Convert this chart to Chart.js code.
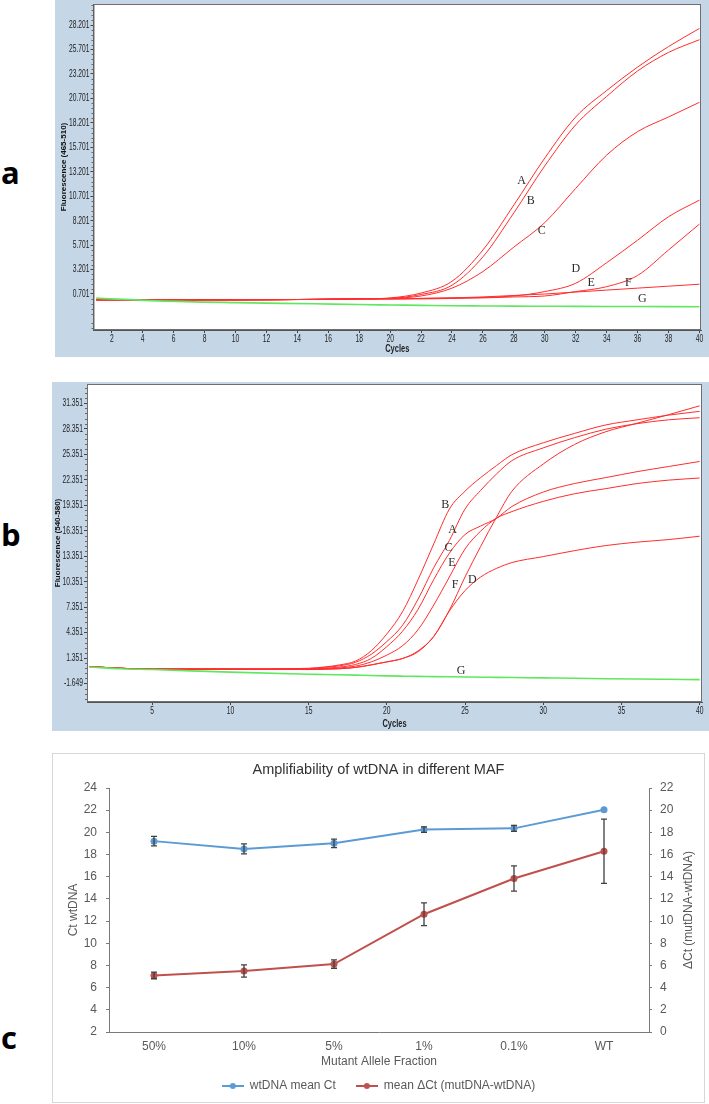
<!DOCTYPE html>
<html>
<head>
<meta charset="utf-8">
<script src="https://cdn.jsdelivr.net/npm/chart.js@4.4.1/dist/chart.umd.min.js"></script>
<style>
  html, body { margin: 0; padding: 0; background: #fff; }
  body { width: 709px; height: 1104px; position: relative; overflow: hidden; }
  .tag { position: absolute; left: 1px; font: bold 31px 'Open Sans', sans-serif; line-height: 31px; color: #000; }
  canvas { position: absolute; }
  #chartA { left: 55px; top: 0; background: #c5d6e7; }
  #chartB { left: 52px; top: 382px; background: #c5d6e7; }
  #boxC { position: absolute; left: 52px; top: 753px; width: 651px; height: 348px; border: 1px solid #d6d6d6; }
  #chartC { left: 0; top: 0; }
</style>
</head>
<body>
<div class="tag" style="top:157px">a</div>
<div class="tag" style="top:519px">b</div>
<div class="tag" style="top:1022px">c</div>
<canvas id="chartA" width="654" height="357"></canvas>
<canvas id="chartB" width="657" height="349"></canvas>
<div id="boxC"><canvas id="chartC" width="651" height="348"></canvas></div>
<script>
// ---- panel a : Fluorescence (465-510)
const cyclesA = [1, 5, 10, 15, 18, 20, 22, 24, 26, 28, 30, 32, 34, 36, 38, 40];
const aA = [0.1, 0.1, 0.1, 0.15, 0.2, 0.3, 0.8, 2.0, 5.2, 9.8, 14.6, 18.8, 21.5, 23.9, 26.0, 27.85];
const aB = [0.1, 0.1, 0.1, 0.15, 0.2, 0.25, 0.65, 1.6, 4.5, 9.0, 13.8, 18.0, 20.9, 23.5, 25.4, 26.7];
const aC = [0.1, 0.1, 0.1, 0.15, 0.2, 0.25, 0.5, 1.3, 3.0, 5.5, 8.0, 11.5, 14.9, 17.3, 18.8, 20.3];
const aD = [0.1, 0.1, 0.1, 0.15, 0.2, 0.2, 0.25, 0.3, 0.35, 0.5, 0.95, 1.8, 3.9, 6.2, 8.6, 10.3];
const aE = [0.1, 0.1, 0.1, 0.15, 0.2, 0.2, 0.2, 0.25, 0.3, 0.4, 0.5, 0.95, 1.45, 2.6, 5.2, 7.85];
const aF = [0.1, 0.1, 0.1, 0.15, 0.2, 0.2, 0.25, 0.3, 0.4, 0.55, 0.7, 0.9, 1.1, 1.3, 1.5, 1.7];
const aG = [0.28, 0.0, -0.18, -0.3, -0.38, -0.42, -0.46, -0.5, -0.52, -0.54, -0.55, -0.56, -0.57, -0.58, -0.59, -0.6];
const xTicksA = [2, 4, 6, 8, 10, 12, 14, 16, 18, 20, 22, 24, 26, 28, 30, 32, 34, 36, 38, 40];
const yTicksA = [0.701, 3.201, 5.701, 8.201, 10.701, 13.201, 15.701, 18.201, 20.701, 23.201, 25.701, 28.201];
const tagsA = [['A', 28.5, 12.3], ['B', 29.1, 10.2], ['C', 29.8, 7.2], ['D', 32.0, 3.26], ['E', 33.0, 1.86], ['F', 35.4, 1.8], ['G', 36.3, 0.19]];

// ---- panel b : Fluorescence (540-580)
const cyclesB = [1, 3, 5, 10, 15, 16, 17, 18, 19, 20, 21, 22, 23, 24, 25, 26, 27, 28, 30, 32, 34, 36, 38, 40];
const bA = [0.35, 0.15, 0.05, 0.05, 0.12, 0.25, 0.45, 0.85, 1.8, 3.3, 5.2, 8.3, 12.0, 15.2, 18.9, 21.1, 23.0, 24.6, 26.1, 27.3, 28.3, 28.95, 29.4, 29.65];
const bB = [0.35, 0.15, 0.05, 0.05, 0.15, 0.3, 0.55, 1.0, 2.2, 4.2, 6.8, 10.6, 14.8, 18.9, 21.0, 22.6, 24.0, 25.3, 26.7, 27.8, 28.8, 29.4, 29.95, 30.4];
const bC = [0.35, 0.15, 0.05, 0.05, 0.1, 0.15, 0.3, 0.6, 1.3, 2.7, 4.5, 7.1, 10.6, 13.7, 15.9, 16.9, 17.8, 19.2, 20.9, 21.9, 22.6, 23.3, 23.9, 24.5];
const bD = [0.35, 0.15, 0.05, 0.05, 0.0, 0.05, 0.1, 0.25, 0.55, 0.9, 1.3, 2.1, 3.9, 6.9, 9.3, 10.9, 11.9, 12.6, 13.3, 14.0, 14.6, 15.0, 15.3, 15.7];
const bE = [0.35, 0.15, 0.05, 0.05, 0.05, 0.1, 0.2, 0.4, 0.9, 1.7, 2.8, 4.7, 7.6, 10.9, 14.2, 16.3, 17.8, 18.6, 19.8, 20.7, 21.3, 21.9, 22.3, 22.55];
const bF = [0.35, 0.15, 0.05, 0.05, 0.0, 0.05, 0.1, 0.25, 0.55, 0.9, 1.3, 2.2, 3.9, 7.0, 10.9, 14.5, 17.9, 21.0, 24.2, 26.5, 28.0, 29.0, 30.0, 31.05];
const bG = [0.3, 0.1, 0.0, -0.3, -0.55, -0.58, -0.62, -0.66, -0.7, -0.75, -0.78, -0.8, -0.83, -0.85, -0.87, -0.9, -0.92, -0.94, -0.98, -1.02, -1.08, -1.12, -1.15, -1.18];
const xTicksB = [5, 10, 15, 20, 25, 30, 35, 40];
const yTicksB = [-1.649, 1.351, 4.351, 7.351, 10.351, 13.351, 16.351, 19.351, 22.351, 25.351, 28.351, 31.351];
const tagsB = [['B', 23.73, 19.36], ['A', 24.2, 16.5], ['C', 23.94, 14.33], ['E', 24.16, 12.56], ['F', 24.37, 10.02], ['D', 25.47, 10.6], ['G', 24.75, -0.16]];

// ---- panel c : Amplifiability of wtDNA in different MAF
const mafLabels = ['50%', '10%', '5%', '1%', '0.1%', 'WT'];
const wtCt = [19.21, 18.51, 19.01, 20.25, 20.36, 22.03];
const wtCtErr = [0.42, 0.45, 0.38, 0.25, 0.27, 0];
const deltaCt = [5.1, 5.5, 6.13, 10.62, 13.84, 16.3];
const deltaCtErr = [0.3, 0.55, 0.38, 1.02, 1.13, 2.9];

const arial = "'Liberation Sans', Arial, sans-serif";
const RED = 'rgb(255,45,45)';
const GREEN = 'rgb(95,232,95)';

function toPoints(xs, ys) {
    return xs.map((x, i) => ({ x: x, y: ys[i] }));
}

// texte compressé horizontalement (police étroite du logiciel LightCycler)
function squeezed(ctx, text, x, y, align, font, sx) {
    ctx.save();
    ctx.translate(x, y);
    ctx.scale(sx, 1);
    ctx.font = font;
    ctx.textAlign = align;
    ctx.textBaseline = 'middle';
    ctx.fillText(text, 0, 0);
    ctx.restore();
}

// fond blanc de la zone de tracé, cadre, graduations et lettres des courbes
function plotFrame(o) {
    return {
        id: 'plotFrame',
        beforeDraw(chart) {
            const { ctx, chartArea: a } = chart;
            ctx.save();
            ctx.fillStyle = '#ffffff';
            ctx.fillRect(a.left, a.top, a.right - a.left, a.bottom - a.top);
            ctx.restore();
        },
        afterDraw(chart) {
            const { ctx, chartArea: a, scales } = chart;
            ctx.save();
            ctx.strokeStyle = '#6f6f6f';
            ctx.lineWidth = 1;
            ctx.strokeRect(a.left + 0.5, a.top + 0.5, a.right - a.left - 1, a.bottom - a.top - 1);

            // petites graduations de l'axe y
            ctx.strokeStyle = '#666';
            const step = (o.yTicks[1] - o.yTicks[0]) / 5;
            for (let k = -10; k < 5 * o.yTicks.length + 10; k++) {
                if (k % 5 === 0) continue;
                const v = o.yTicks[0] + k * step;
                if (v <= o.yMin || v >= o.yMax) continue;
                const py = Math.round(scales.y.getPixelForValue(v)) + 0.5;
                ctx.beginPath();
                ctx.moveTo(a.left - 2, py);
                ctx.lineTo(a.left, py);
                ctx.stroke();
            }

            ctx.fillStyle = '#222';
            o.yTicks.forEach(v => squeezed(ctx, v.toFixed(3), a.left - 4, scales.y.getPixelForValue(v), 'right', '10.5px ' + arial, 0.64));
            o.xTicks.forEach(v => squeezed(ctx, String(v), scales.x.getPixelForValue(v), a.bottom + 9, 'center', '10.5px ' + arial, 0.64));
            squeezed(ctx, 'Cycles', (a.left + a.right) / 2, o.cyclesY, 'center', 'bold 11px ' + arial, 0.68);

            ctx.fillStyle = '#2a2a2a';
            ctx.font = "12px 'Liberation Serif', 'Times New Roman', serif";
            ctx.textAlign = 'center';
            ctx.textBaseline = 'middle';
            o.tags.forEach(t => {
                ctx.fillText(t[0], scales.x.getPixelForValue(t[1]), scales.y.getPixelForValue(t[2]));
            });
            ctx.restore();
        }
    };
}

function qpcrChart(id, cycles, curves, green, o) {
    const datasets = curves.map(vals => ({
        data: toPoints(cycles, vals),
        borderColor: RED,
        borderWidth: 1,
        pointRadius: 0,
        cubicInterpolationMode: 'monotone'
    }));
    datasets.unshift({
        data: toPoints(cycles, green),
        borderColor: GREEN,
        borderWidth: 1.6,
        pointRadius: 0,
        cubicInterpolationMode: 'monotone'
    });
    return new Chart(document.getElementById(id), {
        type: 'line',
        data: { datasets: datasets },
        plugins: [plotFrame(o)],
        options: {
            responsive: false,
            animation: false,
            events: [],
            layout: { padding: { left: 0, right: o.padRight, top: o.padTop, bottom: 0 } },
            plugins: { legend: { display: false }, tooltip: { enabled: false } },
            scales: {
                x: {
                    type: 'linear', min: o.xMin, max: o.xMax,
                    afterBuildTicks: s => { s.ticks = o.xTicks.map(v => ({ value: v })); },
                    afterFit: s => { s.height = o.xHeight; s.paddingLeft = 0; s.paddingRight = 0; },
                    ticks: { display: false },
                    grid: { display: true, drawOnChartArea: false, tickLength: 3, color: '#444' },
                    border: { color: '#555' }
                },
                y: {
                    type: 'linear', min: o.yMin, max: o.yMax,
                    afterBuildTicks: s => { s.ticks = o.yTicks.map(v => ({ value: v })); },
                    afterFit: s => { s.width = o.yWidth; s.paddingTop = 0; s.paddingBottom = 0; },
                    ticks: { display: false },
                    grid: { display: true, drawOnChartArea: false, tickLength: 3, color: '#444' },
                    border: { color: '#555' },
                    title: { display: true, text: o.yTitle, color: '#111', font: { family: arial, size: 8, weight: 'bold' }, padding: { top: o.yTitlePad, bottom: 0 } }
                }
            }
        }
    });
}

qpcrChart('chartA', cyclesA, [aA, aB, aC, aD, aE, aF], aG, {
    tags: tagsA, xTicks: xTicksA, yTicks: yTicksA,
    xMin: 0.82, xMax: 40.1, yMin: -2.98, yMax: 30.35,
    padRight: 8, padTop: 4, xHeight: 27, yWidth: 38.5,
    cyclesY: 349, yTitlePad: 4, yTitle: 'Fluorescence (465-510)'
});

qpcrChart('chartB', cyclesB, [bA, bB, bC, bD, bE, bF], bG, {
    tags: tagsB, xTicks: xTicksB, yTicks: yTicksB,
    xMin: 0.83, xMax: 40.15, yMin: -3.82, yMax: 33.62,
    padRight: 7, padTop: 2, xHeight: 29, yWidth: 35,
    cyclesY: 342, yTitlePad: 1, yTitle: 'Fluorescence (540-580)'
});

// ---- panel c
const BLUE = '#5b9bd5';
const DARKRED = '#c0504d';
const AXIS = '#7a7a7a';
const TXT = '#595959';

function legendMark(color) {
    const c = document.createElement('canvas');
    c.width = 22; c.height = 8;
    const g = c.getContext('2d');
    g.strokeStyle = color; g.lineWidth = 2;
    g.beginPath(); g.moveTo(0, 4); g.lineTo(22, 4); g.stroke();
    g.fillStyle = color;
    g.beginPath(); g.arc(11, 4, 3, 0, Math.PI * 2); g.fill();
    return c;
}

// barres d'erreur + titre de l'axe de droite (tourné comme dans Excel)
const errorBars = {
    id: 'errorBars',
    afterDatasetsDraw(chart) {
        const ctx = chart.ctx;
        ctx.save();
        ctx.strokeStyle = '#404040';
        ctx.lineWidth = 1.3;
        chart.data.datasets.forEach((ds, di) => {
            const meta = chart.getDatasetMeta(di);
            const sc = chart.scales[ds.yAxisID];
            ds.errors.forEach((e, i) => {
                if (!e) return;
                const x = meta.data[i].x;
                const yt = sc.getPixelForValue(ds.data[i] + e);
                const yb = sc.getPixelForValue(ds.data[i] - e);
                ctx.beginPath();
                ctx.moveTo(x, yt); ctx.lineTo(x, yb);
                ctx.moveTo(x - 3, yt); ctx.lineTo(x + 3, yt);
                ctx.moveTo(x - 3, yb); ctx.lineTo(x + 3, yb);
                ctx.stroke();
            });
        });
        ctx.restore();
    },
    afterDraw(chart) {
        const { ctx, chartArea: a, scales } = chart;
        ctx.save();
        ctx.translate(scales.y1.right - 15, (a.top + a.bottom) / 2);
        ctx.rotate(-Math.PI / 2);
        ctx.fillStyle = TXT;
        ctx.font = '12px ' + arial;
        ctx.textAlign = 'center';
        ctx.textBaseline = 'middle';
        ctx.fillText('ΔCt (mutDNA-wtDNA)', 0, 0);
        ctx.restore();
    }
};

const marks = [legendMark(BLUE), legendMark(DARKRED)];

new Chart(document.getElementById('chartC'), {
    type: 'line',
    data: {
        labels: mafLabels,
        datasets: [
            {
                label: 'wtDNA mean Ct', data: wtCt, errors: wtCtErr, yAxisID: 'y',
                borderColor: BLUE, backgroundColor: BLUE, borderWidth: 2,
                pointRadius: 3.5, pointBackgroundColor: BLUE, pointBorderWidth: 0
            },
            {
                label: 'mean ΔCt (mutDNA-wtDNA)', data: deltaCt, errors: deltaCtErr, yAxisID: 'y1',
                borderColor: DARKRED, backgroundColor: DARKRED, borderWidth: 2,
                pointRadius: 3.5, pointBackgroundColor: DARKRED, pointBorderWidth: 0
            }
        ]
    },
    plugins: [errorBars],
    options: {
        responsive: false,
        animation: false,
        events: [],
        layout: { padding: 0 },
        plugins: {
            tooltip: { enabled: false },
            title: {
                display: true, text: 'Amplifiability of wtDNA in different MAF',
                color: '#333', font: { family: arial, size: 14.5, weight: 'normal' },
                padding: { top: 7, bottom: 9.6 }
            },
            legend: {
                position: 'bottom',
                labels: {
                    usePointStyle: true, pointStyleWidth: 22, padding: 20,
                    color: TXT, font: { family: arial, size: 12 },
                    generateLabels: chart => Chart.defaults.plugins.legend.labels.generateLabels(chart)
                        .map((it, i) => Object.assign(it, { pointStyle: marks[i] }))
                }
            }
        },
        scales: {
            x: {
                type: 'category', offset: true,
                afterFit: s => { s.height = 28; s.paddingLeft = 0; s.paddingRight = 0; },
                grid: { display: false, drawTicks: false },
                border: { color: AXIS },
                ticks: { color: TXT, font: { family: arial, size: 12 }, padding: 7, maxRotation: 0 },
                title: { display: true, text: 'Mutant Allele Fraction', color: TXT, font: { family: arial, size: 12 }, padding: { top: 0, bottom: -8.5 } }
            },
            y: {
                position: 'left', min: 2, max: 24,
                afterFit: s => { s.width = 56; s.paddingTop = 0; s.paddingBottom = 0; },
                ticks: { stepSize: 2, color: TXT, font: { family: arial, size: 12 }, padding: 9 },
                grid: { drawOnChartArea: false, tickLength: 3, color: AXIS },
                border: { color: AXIS },
                title: { display: true, text: 'Ct wtDNA', color: TXT, font: { family: arial, size: 12 }, padding: { top: 13, bottom: 0 } }
            },
            y1: {
                position: 'right', min: 0, max: 22,
                afterFit: s => { s.width = 55; s.paddingTop = 0; s.paddingBottom = 0; },
                ticks: { stepSize: 2, color: TXT, font: { family: arial, size: 12 }, padding: 8 },
                grid: { drawOnChartArea: false, tickLength: 3, color: AXIS },
                border: { color: AXIS }
            }
        }
    }
});
</script>
</body>
</html>
